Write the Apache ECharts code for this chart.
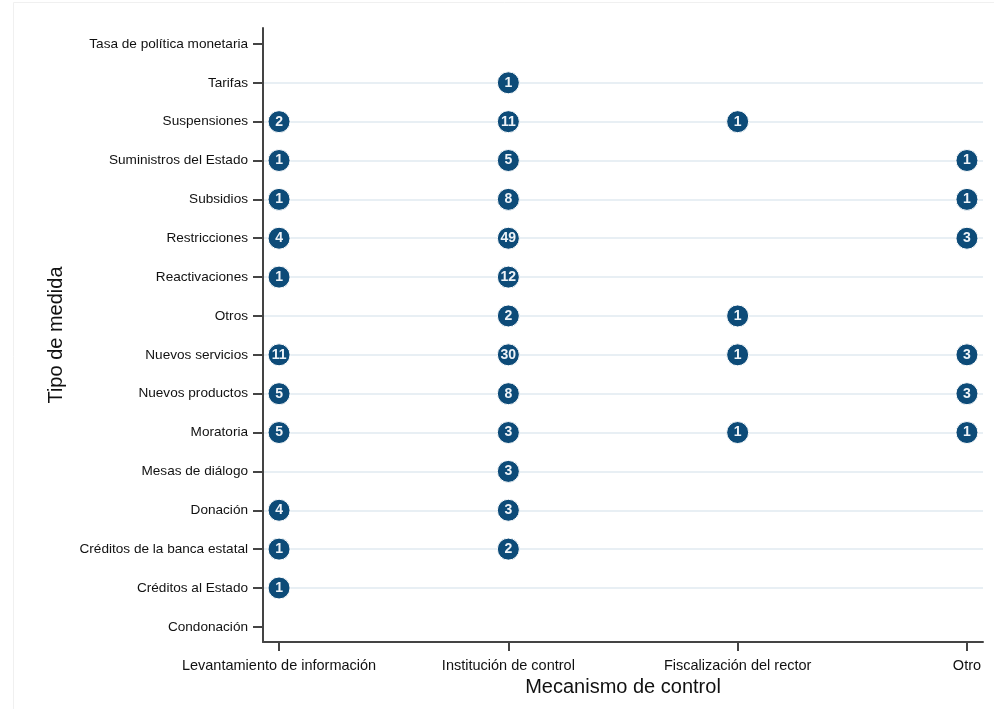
<!DOCTYPE html>
<html>
<head>
<meta charset="utf-8">
<script src="https://cdn.jsdelivr.net/npm/echarts@6/dist/echarts.min.js"></script>
<style>
html,body{margin:0;padding:0;background:#fff;}
#chart{width:994px;height:709px;}
</style>
</head>
<body>
<div id="chart"></div>
<script>
// Categories (bottom to top on the y axis)
var medidas = ["Condonación","Créditos al Estado","Créditos de la banca estatal","Donación","Mesas de diálogo","Moratoria","Nuevos productos","Nuevos servicios","Otros","Reactivaciones","Restricciones","Subsidios","Suministros del Estado","Suspensiones","Tarifas","Tasa de política monetaria"];
var mecanismos = ["Levantamiento de información","Institución de control","Fiscalización del rector","Otro"];

// Counts per mechanism, aligned with medidas (null = no observation)
var levantamiento = [null,1,1,4,null,5,5,11,null,1,4,1,1,2,null,null];
var institucion   = [null,null,2,3,3,3,8,30,2,12,49,8,5,11,1,null];
var fiscalizacion = [null,null,null,null,null,1,null,1,1,null,null,null,null,1,null,null];
var otro          = [null,null,null,null,null,1,3,3,null,null,3,1,1,null,null,null];

var seriesValues = [levantamiento, institucion, fiscalizacion, otro];
var data = [];
seriesValues.forEach(function(arr, xi){
  arr.forEach(function(v, yi){
    if (v !== null) data.push([xi, yi, v]);
  });
});

var xTicks = [0,1,2,3];
var yTicks = medidas.map(function(_, i){ return i; });
var gridColors = yTicks.map(function(i){ return (i === 0 || i === medidas.length-1) ? 'rgba(0,0,0,0)' : '#e8eff4'; });

var chart = echarts.init(document.getElementById('chart'));
chart.setOption({
  backgroundColor: '#ffffff',
  animation: false,
  graphic: [{
    type: 'rect', silent: true, z: -10,
    shape: {x: 13.5, y: 2.5, width: 1200, height: 900},
    style: {fill: 'none', stroke: '#f0f0f0', lineWidth: 1}
  }],
  grid: {left: 263, right: 11, top: 28, bottom: 67, containLabel: false},
  xAxis: {
    type: 'value', min: -0.07, max: 3.07,
    name: 'Mecanismo de control', nameLocation: 'middle', nameGap: 33,
    nameTextStyle: {fontFamily: 'Liberation Sans, Arial', fontSize: 20, color: '#111'},
    axisLine: {show: true, onZero: false, lineStyle: {color: '#444', width: 2}},
    axisTick: {show: true, customValues: xTicks, length: 9, lineStyle: {color: '#444', width: 2}},
    axisLabel: {
      customValues: xTicks, margin: 16,
      fontFamily: 'Liberation Sans, Arial', fontSize: 14.5, color: '#111',
      formatter: function(v){ return mecanismos[Math.round(v)]; }
    },
    splitLine: {show: false}
  },
  yAxis: {
    type: 'value', min: -0.39, max: 15.41,
    name: 'Tipo de medida', nameLocation: 'middle', nameGap: 197, nameRotate: 90,
    nameTextStyle: {fontFamily: 'Liberation Sans, Arial', fontSize: 20, color: '#111'},
    axisLine: {show: true, onZero: false, lineStyle: {color: '#444', width: 2}},
    axisTick: {show: true, customValues: yTicks, length: 10, lineStyle: {color: '#444', width: 2}},
    axisLabel: {
      customValues: yTicks, margin: 15,
      fontFamily: 'Liberation Sans, Arial', fontSize: 13.6, color: '#111',
      formatter: function(v){ return medidas[Math.round(v)]; }
    },
    splitLine: {show: true, lineStyle: {color: gridColors, width: 2}}
  },
  series: [{
    type: 'scatter',
    data: data,
    symbol: 'circle',
    symbolSize: 22,
    itemStyle: {color: '#0d4b78', borderColor: '#ffffff', borderWidth: 1, opacity: 1},
    label: {
      show: true, position: 'inside',
      formatter: function(p){ return p.value[2]; },
      fontFamily: 'Liberation Sans, Arial', fontWeight: 'bold', fontSize: 14, color: '#eef3f8'
    }
  }]
});
</script>
</body>
</html>
